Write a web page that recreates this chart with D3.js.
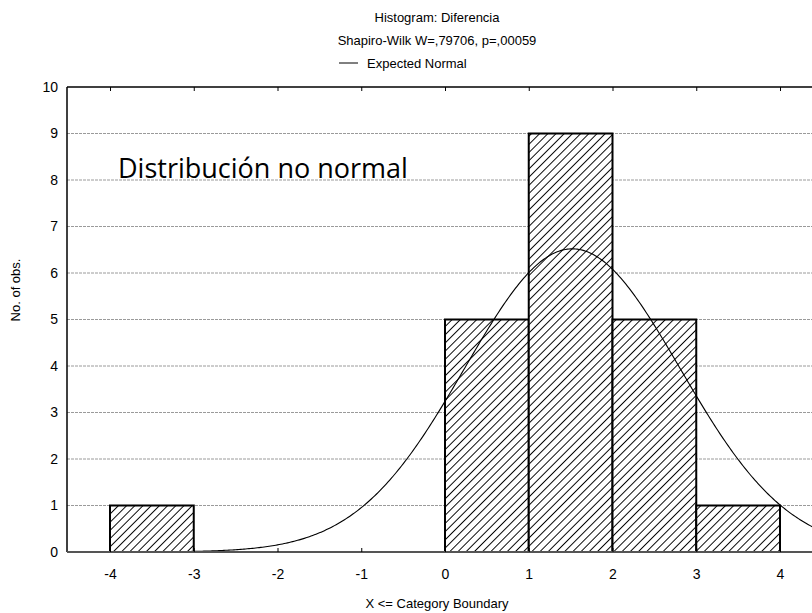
<!DOCTYPE html>
<html>
<head>
<meta charset="utf-8">
<script src="https://cdn.jsdelivr.net/npm/d3@7"></script>
<style>
  body { margin: 0; background: #fff; }
  svg { display: block; }
</style>
</head>
<body>
<div id="chart"></div>
<script>
// histogram bins (lower, upper] and counts
var binStart = [-4, 0, 1, 2, 3];
var binEnd = [-3, 1, 2, 3, 4];
var binCount = [1, 5, 9, 5, 1];
var xTicks = [-4, -3, -2, -1, 0, 1, 2, 3, 4];
var yTicks = [0, 1, 2, 3, 4, 5, 6, 7, 8, 9, 10];
// expected normal, parameters
var normMean = 1.52;
var normSd = 1.285;
var normN = 21;

var width = 812, height = 613;
var plotLeft = 67, plotTop = 87, plotBottom = 552;

var svg = d3.select("#chart").append("svg")
    .attr("width", width)
    .attr("height", height);

var x = d3.scaleLinear().domain([-4, 4]).range([110, 780]);
var y = d3.scaleLinear().domain([0, 10]).range([plotBottom, plotTop]);

var defs = svg.append("defs");
var pat = defs.append("pattern")
    .attr("id", "hatch")
    .attr("patternUnits", "userSpaceOnUse")
    .attr("width", 5.8)
    .attr("height", 5.8)
    .attr("patternTransform", "rotate(45)");
pat.append("rect").attr("width", 5.8).attr("height", 5.8).attr("fill", "#fff");
pat.append("line")
    .attr("x1", 0).attr("y1", 0).attr("x2", 0).attr("y2", 5.8)
    .attr("stroke", "#000").attr("stroke-width", 1.9);

defs.append("clipPath").attr("id", "plotclip")
    .append("rect").attr("x", plotLeft).attr("y", plotTop - 2)
    .attr("width", width - plotLeft).attr("height", plotBottom - plotTop + 4);

// grid lines
svg.append("g").selectAll("line")
    .data(yTicks.filter(d => d > 0 && d < 10))
    .enter().append("line")
    .attr("x1", plotLeft).attr("x2", width)
    .attr("y1", d => y(d)).attr("y2", d => y(d))
    .attr("stroke", "#9a9a9a")
    .attr("stroke-width", 1)
    .attr("stroke-dasharray", "3,1");

// bars
svg.append("g").selectAll("rect")
    .data(binCount)
    .enter().append("rect")
    .attr("x", (d, i) => x(binStart[i]))
    .attr("width", (d, i) => x(binEnd[i]) - x(binStart[i]))
    .attr("y", d => y(d))
    .attr("height", d => y(0) - y(d))
    .attr("fill", "url(#hatch)")
    .attr("stroke", "#000")
    .attr("stroke-width", 2);

// expected normal curve
var curveX = d3.range(-4.6, 4.6, 0.02);
var line = d3.line()
    .x(d => x(d))
    .y(d => y(normN / (normSd * Math.sqrt(2 * Math.PI)) * Math.exp(-0.5 * Math.pow((d - normMean) / normSd, 2))));
svg.append("path")
    .datum(curveX)
    .attr("clip-path", "url(#plotclip)")
    .attr("d", line)
    .attr("fill", "none")
    .attr("stroke", "#000")
    .attr("stroke-width", 1.1);

// frame
svg.append("line").attr("x1", plotLeft).attr("x2", width).attr("y1", plotTop).attr("y2", plotTop)
    .attr("stroke", "#000").attr("stroke-width", 1.5);
svg.append("line").attr("x1", plotLeft).attr("x2", plotLeft).attr("y1", plotTop).attr("y2", plotBottom)
    .attr("stroke", "#000").attr("stroke-width", 1.5);
svg.append("line").attr("x1", plotLeft).attr("x2", width).attr("y1", plotBottom).attr("y2", plotBottom)
    .attr("stroke", "#555").attr("stroke-width", 2);

var font = "Liberation Sans, Arial, sans-serif";

// x axis (ticks inward)
var xAxis = svg.append("g")
    .attr("transform", "translate(0," + plotBottom + ")")
    .call(d3.axisBottom(x).tickValues(xTicks).tickSizeInner(-4).tickSizeOuter(0)
        .tickPadding(17).tickFormat(d => String(d)));
xAxis.select(".domain").remove();
xAxis.selectAll("text").attr("font-family", font).attr("font-size", 14).attr("fill", "#000");
xAxis.selectAll("line").attr("stroke", "#000");

// top ticks
var topAxis = svg.append("g")
    .attr("transform", "translate(0," + plotTop + ")")
    .call(d3.axisTop(x).tickValues(xTicks).tickSizeInner(-4).tickSizeOuter(0).tickFormat(""));
topAxis.select(".domain").remove();
topAxis.selectAll("line").attr("stroke", "#000");

// y axis labels
var yAxis = svg.append("g")
    .attr("transform", "translate(" + plotLeft + ",0)")
    .call(d3.axisLeft(y).tickValues(yTicks).tickSize(0).tickPadding(9).tickFormat(d => String(d)));
yAxis.select(".domain").remove();
yAxis.selectAll("text").attr("font-family", font).attr("font-size", 14).attr("fill", "#000");

// titles
svg.append("text").attr("x", 437).attr("y", 22).attr("text-anchor", "middle")
    .attr("font-family", font).attr("font-size", 13).text("Histogram: Diferencia");
svg.append("text").attr("x", 437).attr("y", 45).attr("text-anchor", "middle")
    .attr("font-family", font).attr("font-size", 13).text("Shapiro-Wilk W=,79706, p=,00059");
svg.append("line").attr("x1", 339).attr("x2", 358).attr("y1", 63).attr("y2", 63)
    .attr("stroke", "#000").attr("stroke-width", 1);
svg.append("text").attr("x", 367).attr("y", 68)
    .attr("font-family", font).attr("font-size", 13).text("Expected Normal");

svg.append("text").attr("x", 437).attr("y", 608).attr("text-anchor", "middle")
    .attr("font-family", font).attr("font-size", 13).text("X <= Category Boundary");
svg.append("text").attr("transform", "translate(20,290) rotate(-90)").attr("text-anchor", "middle")
    .attr("font-family", font).attr("font-size", 13).text("No. of obs.");

svg.append("text").attr("x", 118).attr("y", 178)
    .attr("font-family", "Open Sans, Noto Sans, sans-serif").attr("font-size", 27)
    .text("Distribución no normal");
</script>
</body>
</html>
